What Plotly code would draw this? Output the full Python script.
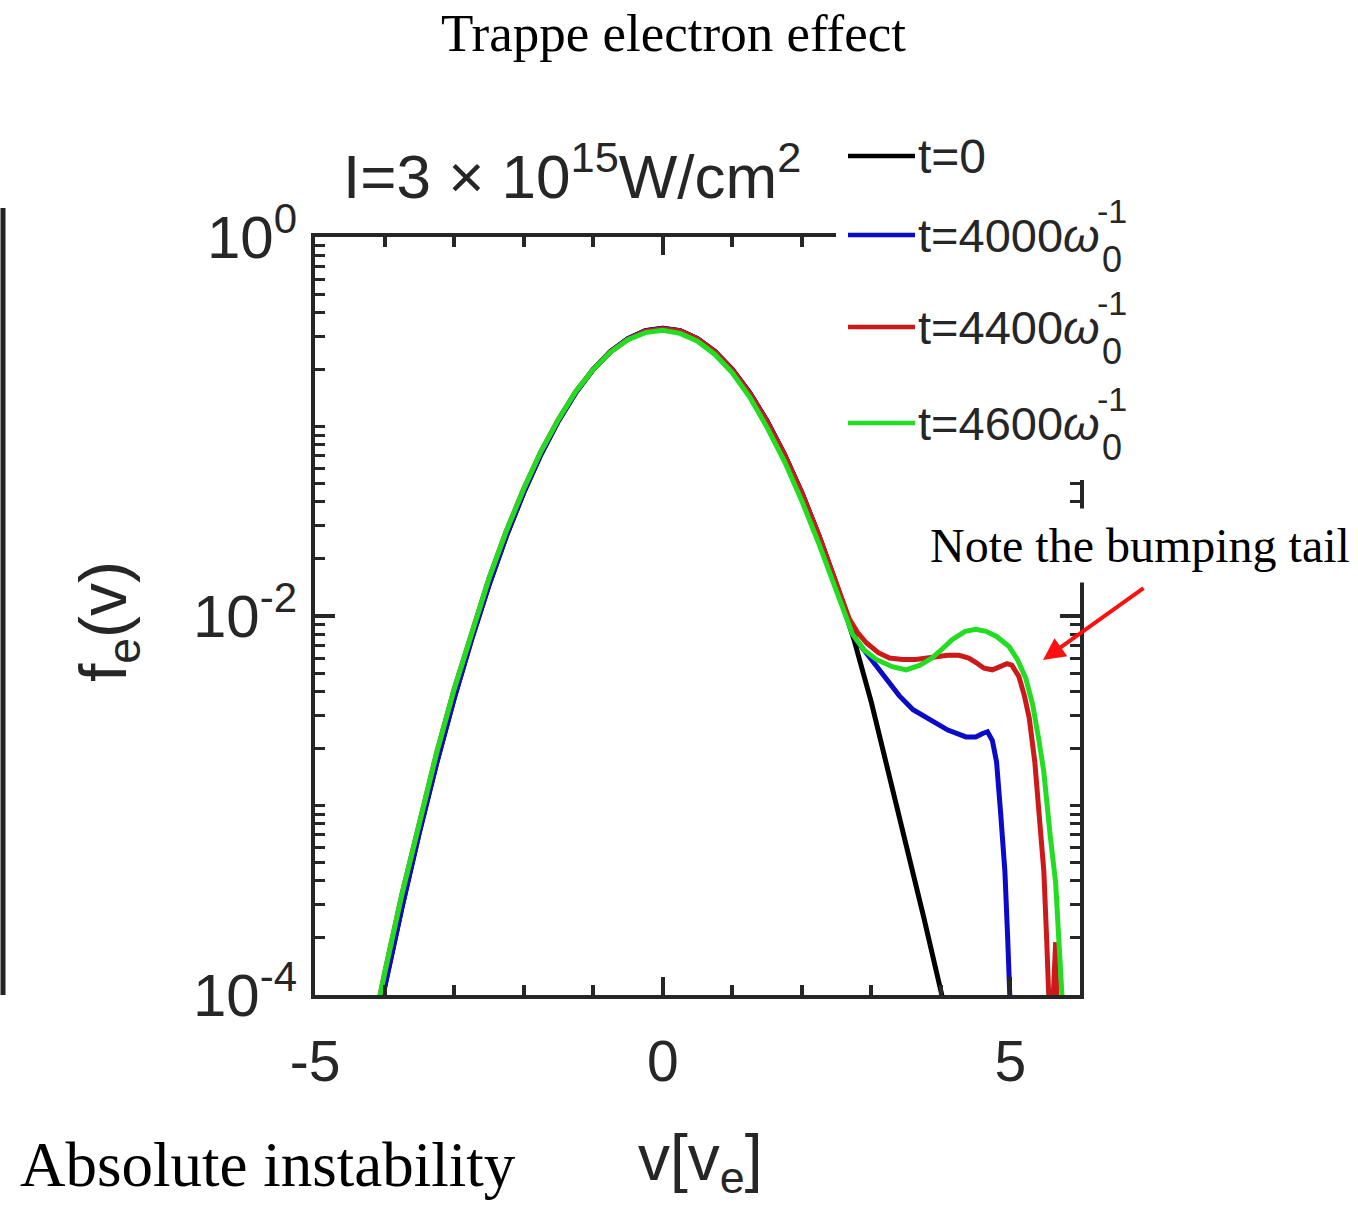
import plotly.graph_objects as go

# ---------------- data ----------------
v_t0 = [-4.1, -4.0, -3.75, -3.5, -3.25, -3.0, -2.75, -2.5, -2.25, -2.0, -1.75, -1.5, -1.25, -1.0,
        -0.75, -0.5, -0.25, 0.0, 0.25, 0.5, 0.75, 1.0, 1.25, 1.5, 1.75, 2.0, 2.25, 2.5, 2.75,
        3.0, 3.25, 3.5, 3.75, 4.0, 4.1]
f_t0 = [7.4e-5, 1.1e-4, 2.9e-4, 7.2e-4, 1.68e-3, 3.67e-3, 7.5e-3, 0.0145, 0.0263, 0.0447, 0.0714,
        0.107, 0.151, 0.200, 0.249, 0.291, 0.320, 0.330, 0.320, 0.291, 0.249, 0.200, 0.151, 0.107,
        0.0714, 0.0447, 0.0263, 0.0145, 0.0075, 0.0035, 0.0015, 0.00064, 0.00026, 0.000105, 7e-5]

v_t4000 = [-4.1, -4.0, -3.75, -3.5, -3.25, -3.0, -2.75, -2.5, -2.25, -2.0, -1.75, -1.5, -1.25, -1.0,
           -0.75, -0.5, -0.25, 0.0, 0.25, 0.5, 0.75, 1.0, 1.25, 1.5, 1.75, 2.0, 2.25, 2.5, 2.78,
           3.0, 3.2, 3.4, 3.6, 3.87, 4.1, 4.36, 4.5, 4.6, 4.67, 4.74, 4.8, 4.86, 4.92, 4.96, 5.0]
f_t4000 = [7.4e-5, 1.1e-4, 2.9e-4, 7.2e-4, 1.68e-3, 3.67e-3, 7.5e-3, 0.0145, 0.0263, 0.0447, 0.0714,
           0.107, 0.151, 0.200, 0.249, 0.291, 0.320, 0.330, 0.320, 0.291, 0.249, 0.200, 0.151, 0.107,
           0.0714, 0.0447, 0.0263, 0.0146, 0.0075, 0.0059, 0.0047, 0.0038, 0.0032, 0.0028, 0.0025,
           0.0023, 0.0023, 0.0024, 0.00245, 0.0022, 0.0017, 0.0009, 0.00045, 0.0002, 0.00008]

v_t4400 = [-4.15, -4.07, -4.0, -3.75, -3.5, -3.25, -3.0, -2.75, -2.5, -2.25, -2.0, -1.75, -1.5, -1.25,
           -1.0, -0.75, -0.5, -0.25, 0.0, 0.25, 0.5, 0.75, 1.0, 1.25, 1.5, 1.75, 2.0, 2.25, 2.5,
           2.68, 2.8, 2.93, 3.1, 3.26, 3.45, 3.64, 3.8, 3.97, 4.1, 4.26, 4.4, 4.5, 4.62, 4.74, 4.85,
           4.95, 5.02, 5.12, 5.2, 5.27, 5.35, 5.42, 5.48, 5.52, 5.55, 5.58, 5.65, 5.68]
f_t4400 = [7e-5, 1.0e-4, 1.3e-4, 3.4e-4, 8.3e-4, 1.9e-3, 4.1e-3, 8.2e-3, 0.0157, 0.0280, 0.0468,
           0.0740, 0.109, 0.153, 0.200, 0.248, 0.289, 0.318, 0.328, 0.319, 0.290, 0.248, 0.199,
           0.150, 0.106, 0.0710, 0.0446, 0.0264, 0.0148, 0.0097, 0.0082, 0.0072, 0.0064, 0.0060,
           0.0059, 0.0059, 0.0060, 0.0061, 0.0062, 0.0062, 0.0060, 0.0057, 0.0053, 0.0052, 0.0054,
           0.0056, 0.0055, 0.0048, 0.0038, 0.0029, 0.0017, 0.0009, 0.00045, 0.0002, 0.0001, 5e-5,
           1.9e-4, 5e-5]

v_t4600 = [-4.15, -4.07, -4.0, -3.75, -3.5, -3.25, -3.0, -2.75, -2.5, -2.25, -2.0, -1.75, -1.5, -1.25,
           -1.0, -0.75, -0.5, -0.25, 0.0, 0.25, 0.5, 0.75, 1.0, 1.25, 1.5, 1.75, 2.0, 2.25, 2.5,
           2.73, 2.9, 3.07, 3.3, 3.5, 3.7, 3.87, 4.0, 4.16, 4.35, 4.5, 4.65, 4.8, 4.98, 5.1, 5.22,
           5.32, 5.41, 5.48, 5.57, 5.65, 5.74, 5.78]
f_t4600 = [7e-5, 1.0e-4, 1.3e-4, 3.4e-4, 8.3e-4, 1.9e-3, 4.1e-3, 8.2e-3, 0.0157, 0.0280, 0.0468,
           0.0740, 0.109, 0.153, 0.200, 0.247, 0.287, 0.313, 0.322, 0.310, 0.282, 0.240, 0.192,
           0.143, 0.099, 0.0655, 0.0405, 0.0238, 0.0135, 0.0080, 0.0066, 0.0059, 0.0054, 0.0052,
           0.0055, 0.0060, 0.0066, 0.0075, 0.0083, 0.0085, 0.0083, 0.0078, 0.0069, 0.0059, 0.0047,
           0.0034, 0.0022, 0.0015, 0.0007, 0.00039, 0.0001, 6e-5]

series_names = ["t=0", "t=4000", "t=4400", "t=4600"]
series_colors = ["#000000", "#0A0AC8", "#CC1A1A", "#22DD22"]

x_major = [-5, 0, 5]
x_major_text = ["-5", "0", "5"]
x_minor = [-4, -3, -2, -1, 1, 2, 3, 4, 6]
y_major = [1e-4, 1e-2, 1e0]
y_major_text = ["10<sup>-4</sup>", "10<sup>-2</sup>", "10<sup>0</sup>"]
y_minor = [m * 10.0 ** k for k in range(-4, 0) for m in range(2, 10)] + [1e-3, 1e-1]

# ---------------- layout helpers (pixel -> paper) ----------------
W, H = 1358, 1211
L, R, T, B = 315, 1080, 237, 995


def px(x):
    return (x - L) / (R - L)


def py(y):
    return (B - y) / (B - T)


AX = "#262626"
SANS = "Liberation Sans, Arial, sans-serif"
SERIF = "Liberation Serif, Times New Roman, serif"

fig = go.Figure()
for vx, fy, name, col in zip([v_t0, v_t4000, v_t4400, v_t4600],
                             [f_t0, f_t4000, f_t4400, f_t4600],
                             series_names, series_colors):
    fig.add_trace(go.Scatter(x=vx, y=fy, mode="lines", name=name,
                             line=dict(color=col, width=5), showlegend=False))

fig.update_layout(
    width=W, height=H, autosize=False,
    margin=dict(l=L, r=W - R, t=T, b=H - B, pad=0),
    paper_bgcolor="white", plot_bgcolor="white",
    font=dict(family=SANS, color=AX),
    xaxis=dict(range=[-5, 6], showgrid=False, zeroline=False,
               showline=True, linecolor=AX, linewidth=4, mirror="ticks",
               ticks="inside", ticklen=18, tickwidth=3.5, tickcolor=AX,
               tickmode="array", tickvals=x_major, ticktext=x_major_text,
               tickfont=dict(size=57, family=SANS, color=AX), ticklabelstandoff=14,
               minor=dict(tickmode="array", tickvals=x_minor, ticks="inside",
                          ticklen=10, tickwidth=3.5, tickcolor=AX)),
    yaxis=dict(type="log", range=[-4, 0], showgrid=False, zeroline=False,
               showline=True, linecolor=AX, linewidth=4, mirror="ticks",
               ticks="inside", ticklen=20, tickwidth=3.5, tickcolor=AX,
               tickmode="array", tickvals=y_major, ticktext=y_major_text,
               tickfont=dict(size=60, family=SANS, color=AX), ticklabelstandoff=2,
               minor=dict(tickmode="array", tickvals=y_minor, ticks="inside",
                          ticklen=10, tickwidth=3, tickcolor=AX)),
)

shapes = []
# left vertical bar
shapes.append(dict(type="line", xref="paper", yref="paper", x0=px(3), x1=px(3),
                   y0=py(995), y1=py(208), line=dict(color="#222222", width=5)))
# legend box (white, covers top-right of axes)
shapes.append(dict(type="rect", xref="paper", yref="paper", x0=px(836), x1=px(1150),
                   y0=py(480), y1=py(118), fillcolor="white", line=dict(width=0), layer="above"))
leg_y = [156, 235, 327, 423]
for yy, col in zip(leg_y, series_colors):
    shapes.append(dict(type="line", xref="paper", yref="paper", x0=px(848), x1=px(915),
                       y0=py(yy), y1=py(yy), line=dict(color=col, width=4.5), layer="above"))

annotations = []
# legend texts
annotations.append(dict(text="t=0", x=px(916), y=py(leg_y[0]), xref="paper", yref="paper",
                        xanchor="left", yanchor="middle", showarrow=False,
                        font=dict(size=48, family=SANS, color=AX)))
for yy, num in zip(leg_y[1:], ["4000", "4400", "4600"]):
    annotations.append(dict(text="t=" + num + "<i>ω</i>", x=px(916), y=py(yy), xref="paper",
                            yref="paper", xanchor="left", yanchor="middle", showarrow=False,
                            font=dict(size=47, family=SANS, color=AX)))
    annotations.append(dict(text="-1", x=px(1095), y=py(yy - 24), xref="paper", yref="paper",
                            xanchor="left", yanchor="middle", showarrow=False,
                            font=dict(size=34, family=SANS, color=AX)))
    annotations.append(dict(text="0", x=px(1100), y=py(yy + 24), xref="paper", yref="paper",
                            xanchor="left", yanchor="middle", showarrow=False,
                            font=dict(size=36, family=SANS, color=AX)))

# panel title
annotations.append(dict(text="I=3 × 10<sup>15</sup>W/cm<sup>2</sup>", x=px(572), y=py(172),
                        xref="paper", yref="paper", xanchor="center", yanchor="middle",
                        showarrow=False, font=dict(size=62, family=SANS, color=AX)))
# axis titles
annotations.append(dict(text="v[v<sub>e</sub>]", x=px(700), y=py(1162), xref="paper",
                        yref="paper", xanchor="center", yanchor="middle", showarrow=False,
                        font=dict(size=64, family=SANS, color=AX)))
annotations.append(dict(text="f<sub>e</sub>(v)", x=px(108), y=py(622), xref="paper",
                        yref="paper", xanchor="center", yanchor="middle", showarrow=False,
                        textangle=-90, font=dict(size=66, family=SANS, color=AX)))
# slide texts
annotations.append(dict(text="Trappe electron effect", x=px(673), y=py(33), xref="paper",
                        yref="paper", xanchor="center", yanchor="middle", showarrow=False,
                        font=dict(size=53, family=SERIF, color="black")))
annotations.append(dict(text="Absolute instability", x=px(18), y=py(1165), xref="paper",
                        yref="paper", xanchor="left", yanchor="middle", showarrow=False,
                        font=dict(size=63, family=SERIF, color="black")))
annotations.append(dict(text="Note the bumping tail", x=px(1140), y=py(545), xref="paper",
                        yref="paper", xanchor="center", yanchor="middle", showarrow=False,
                        bgcolor="white", borderpad=10,
                        font=dict(size=48, family=SERIF, color="black")))
# red arrow
annotations.append(dict(text="", x=px(1043), y=py(660), xref="paper", yref="paper",
                        showarrow=True, ax=102, ay=-73, arrowcolor="#FF1010",
                        arrowwidth=4, arrowhead=2, arrowsize=1.1))

fig.update_layout(shapes=shapes, annotations=annotations)
fig.write_html("out.html")
